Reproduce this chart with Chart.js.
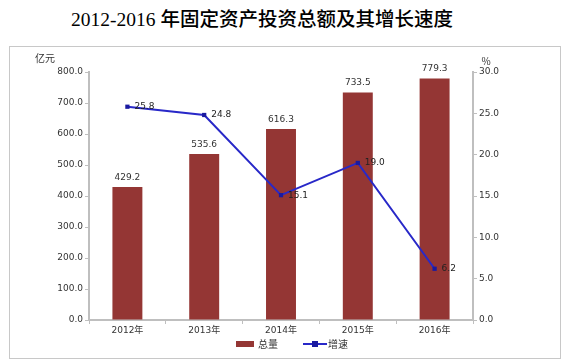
<!DOCTYPE html>
<html>
<head>
<meta charset="utf-8">
<script src="https://cdn.jsdelivr.net/npm/chart.js@4"></script>
<style>
  body { margin: 0; background: #fff; width: 568px; height: 363px; overflow: hidden; position: relative; }
  #title { position: absolute; left: -22px; top: 3px; width: 568px; text-align: center;
           font: 500 19.5px "Liberation Serif", "Noto Sans CJK SC", serif; color: #000; white-space: nowrap; }
  #box { position: absolute; left: 9px; top: 46px; width: 550px; height: 311px; border: 1px solid #c8c8c8; }
</style>
</head>
<body>
<div id="title">2012-2016 年固定资产投资总额及其增长速度</div>
<div id="box"><canvas id="myChart" width="550" height="311"></canvas></div>
<script>
var years = ["2012年", "2013年", "2014年", "2015年", "2016年"];
var totals = [429.2, 535.6, 616.3, 733.5, 779.3];
var growth = [25.8, 24.8, 15.1, 19.0, 6.2];
var leftTicks = [0, 100, 200, 300, 400, 500, 600, 700, 800];
var rightTicks = [0, 5, 10, 15, 20, 25, 30];
var seriesNames = ["总量", "增速"];

var barColor = 'rgb(148, 54, 52)';
var lineColor = 'rgb(40, 40, 200)';
var markColor = '#1a1aa0';
var labelFont = '9px "DejaVu Sans", sans-serif';
var cjkFont = '10px "Noto Sans CJK SC", sans-serif';

var extras = {
    id: 'extras',
    afterDatasetsDraw: function(chart) {
        var ctx = chart.ctx;
        var area = chart.chartArea;
        ctx.save();
        ctx.font = labelFont;
        ctx.fillStyle = '#333';
        ctx.textAlign = 'center';
        ctx.textBaseline = 'bottom';
        chart.getDatasetMeta(0).data.forEach(function(el, i) {
            ctx.fillText(totals[i].toFixed(1), el.x, el.y - 5);
        });
        ctx.fillStyle = '#222';
        ctx.textAlign = 'left';
        ctx.textBaseline = 'middle';
        chart.getDatasetMeta(1).data.forEach(function(el, i) {
            ctx.fillText(growth[i].toFixed(1), el.x + 7, el.y);
        });

        // axis units
        ctx.font = cjkFont;
        ctx.fillStyle = '#333';
        ctx.textAlign = 'center';
        ctx.fillText('亿元', area.left - 44, area.top - 14);
        ctx.fillText('%', area.right + 13, area.top - 11);

        // legend
        var ly = chart.height - 14;
        var cx = (area.left + area.right) / 2;
        ctx.fillStyle = barColor;
        ctx.fillRect(cx - 45, ly - 3, 18, 6);
        ctx.fillStyle = '#333';
        ctx.textAlign = 'left';
        ctx.fillText(seriesNames[0], cx - 23, ly);
        ctx.strokeStyle = lineColor;
        ctx.lineWidth = 2;
        ctx.beginPath(); ctx.moveTo(cx + 22, ly); ctx.lineTo(cx + 46, ly); ctx.stroke();
        ctx.fillStyle = markColor;
        ctx.fillRect(cx + 31, ly - 3, 6, 6);
        ctx.fillStyle = '#333';
        ctx.fillText(seriesNames[1], cx + 47, ly);
        ctx.restore();
    }
};

var ctx = document.getElementById('myChart').getContext('2d');
var chart = new Chart(ctx, {
    type: 'bar',
    data: {
        labels: years,
        datasets: [{
            label: seriesNames[0],
            data: totals,
            backgroundColor: barColor,
            barPercentage: 0.39,
            categoryPercentage: 1,
            yAxisID: 'y',
            order: 2
        }, {
            type: 'line',
            label: seriesNames[1],
            data: growth,
            borderColor: lineColor,
            borderWidth: 2,
            backgroundColor: markColor,
            pointStyle: 'rect',
            pointRadius: 3,
            pointBorderWidth: 0,
            tension: 0,
            yAxisID: 'y1',
            order: 1
        }]
    },
    options: {
        responsive: false,
        animation: false,
        layout: { padding: { top: 25, left: 0, right: 0, bottom: 21 } },
        plugins: {
            tooltip: { enabled: false },
            legend: { display: false }
        },
        scales: {
            x: {
                afterFit: function(s) { s.height = 17; },
                grid: { display: true, drawOnChartArea: false, offset: true, tickLength: 4, color: '#bfbfbf' },
                border: { color: '#bfbfbf', width: 2 },
                ticks: { font: { size: 9, family: '"DejaVu Sans", "Noto Sans CJK SC", sans-serif' }, color: '#333', padding: 1 }
            },
            y: {
                position: 'left',
                min: 0, max: 800,
                afterBuildTicks: function(s) { s.ticks = leftTicks.map(function(v) { return { value: v }; }); },
                afterFit: function(s) { s.width = 79; },
                grid: { display: true, drawOnChartArea: false, tickLength: 4, color: '#bfbfbf' },
                border: { color: '#bfbfbf', width: 2 },
                ticks: { font: { size: 9, family: '"DejaVu Sans", sans-serif' }, color: '#333', padding: 2,
                         callback: function(v) { return v.toFixed(1); } }
            },
            y1: {
                position: 'right',
                min: 0, max: 30,
                afterBuildTicks: function(s) { s.ticks = rightTicks.map(function(v) { return { value: v }; }); },
                afterFit: function(s) { s.width = 87; },
                grid: { display: true, drawOnChartArea: false, tickLength: 4, color: '#bfbfbf' },
                border: { color: '#bfbfbf', width: 2 },
                ticks: { font: { size: 9, family: '"DejaVu Sans", sans-serif' }, color: '#333', padding: 2,
                         callback: function(v) { return v.toFixed(1); } }
            }
        }
    },
    plugins: [extras]
});
</script>
</body>
</html>
